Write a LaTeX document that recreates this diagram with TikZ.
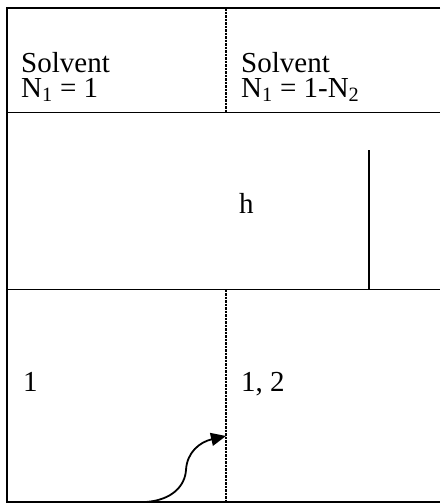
\documentclass[tikz,border=0pt]{standalone}
\usepackage{fontspec}
\setmainfont{Liberation Serif}
\usetikzlibrary{arrows.meta}
\begin{document}
\begin{tikzpicture}[x=1pt,y=-1pt,
  frame/.style={line width=1.8pt},
  divider/.style={line width=1.2pt,dash pattern=on 2.5pt off 1pt},
  lbl/.style={anchor=base west,inner sep=0pt,font=\fontsize{29}{25}\selectfont},
  pair/.style={lbl,align=left},
  flow/.style={line width=1.8pt,-{Triangle[length=15pt,width=13pt]}}]
\useasboundingbox (0,0) rectangle (440,504);
% frame
\draw[frame] (440,8) -- (7,8) -- (7,502) -- (440,502);
\draw[frame] (7,112.5) -- (440,112.5);
\draw[frame] (7,289.5) -- (440,289.5);
\draw[frame] (369,150) -- (369,289.5);
% dashed dividers
\draw[divider] (226,8) -- (226,112.5);
\draw[divider] (226,289.5) -- (226,502);
% labels
\node[pair] (left) at (21,97) {Solvent\\N\textsubscript{1} = 1};
\node[pair] (right) at (241,97) {Solvent\\N\textsubscript{1} = 1-N\textsubscript{2}};
\node[lbl] (h) at (239,213) {h};
\node[lbl] (one) at (23,391) {1};
\node[lbl] (onetwo) at (241,391) {1, 2};
% arrow
\coordinate (a0) at (146,502);
\coordinate (a1) at (226,436);
\draw[flow] (a0) .. controls (172,500) and (185,486) .. (186,470)
  .. controls (187,452) and (200,442) .. (a1);
\end{tikzpicture}
\end{document}
